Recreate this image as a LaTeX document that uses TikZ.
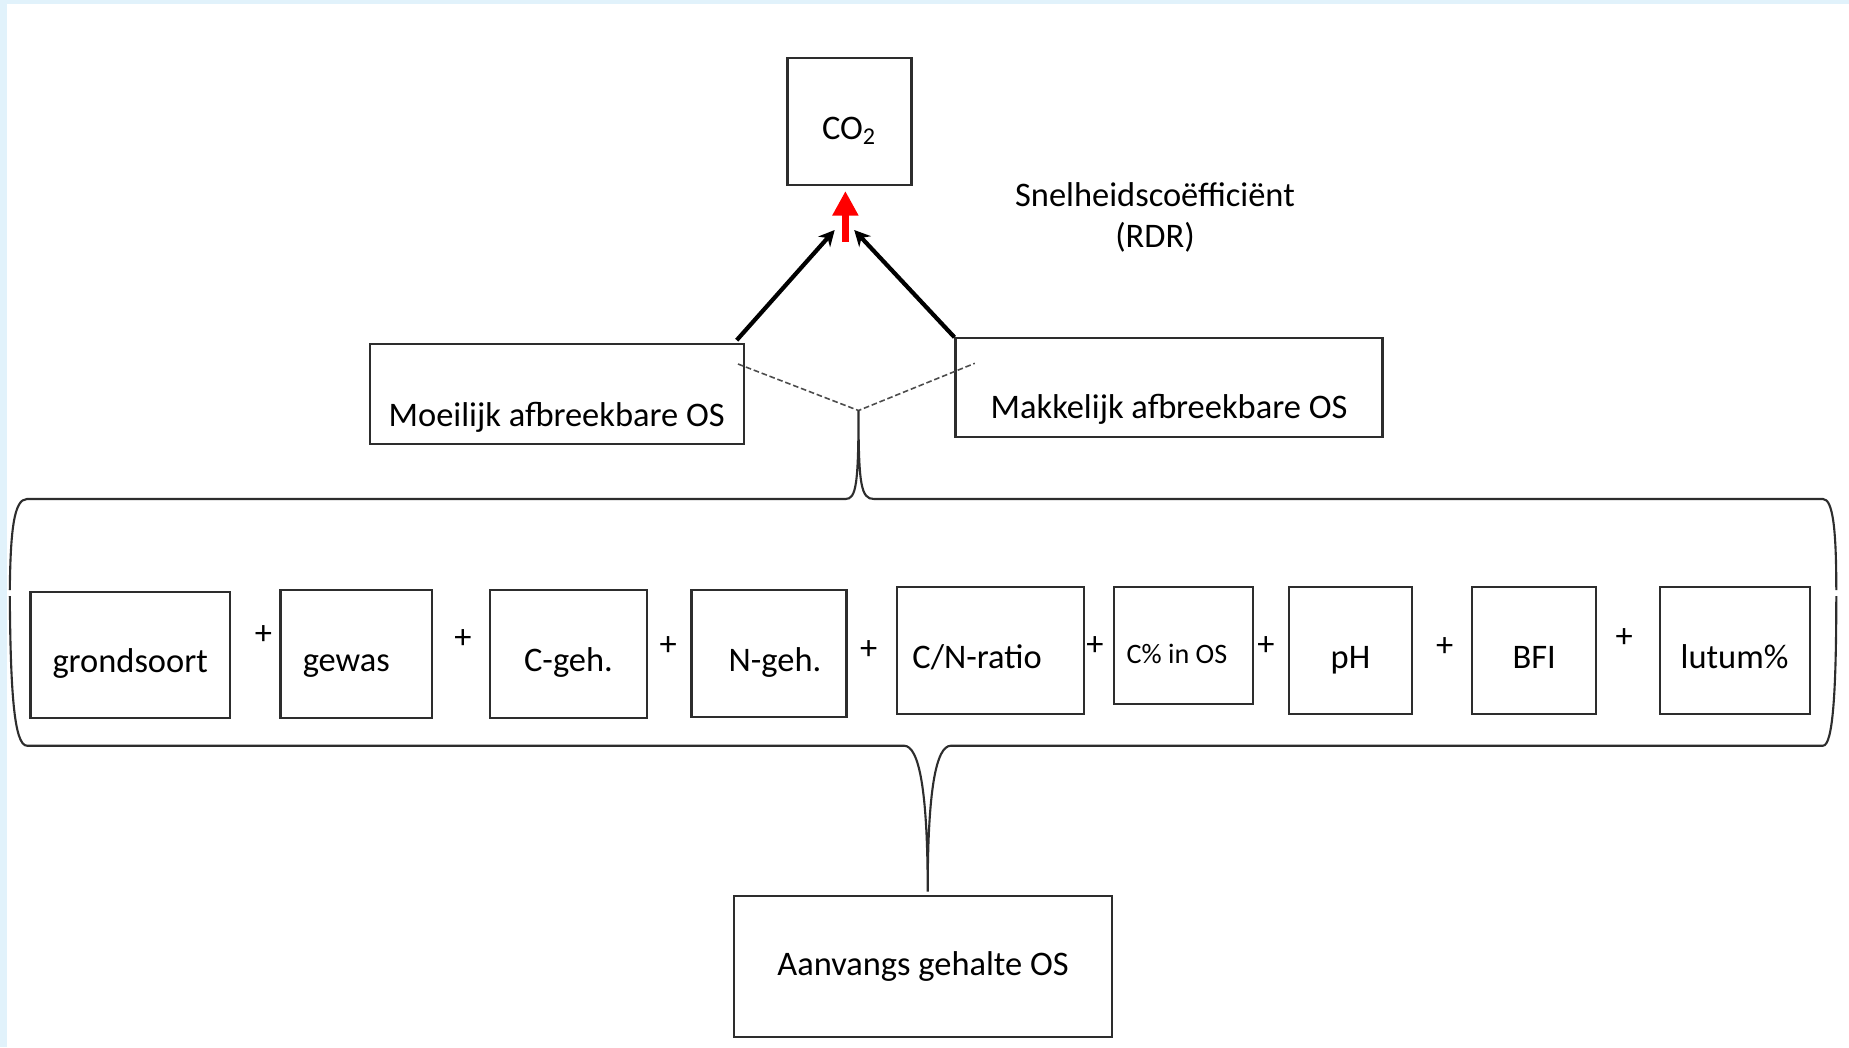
\documentclass[tikz,border=0pt]{standalone}
\usepackage{fontspec}
\setmainfont{Carlito}
\usepackage{tikz}
\usetikzlibrary{arrows.meta,positioning}
\definecolor{framecolor}{RGB}{225,242,251}
\definecolor{linecolor}{RGB}{45,45,45}

\begin{document}
\begin{tikzpicture}[
    font=\fontsize{9.8}{11.8}\selectfont,
    box/.style={draw=linecolor, line width=0.6pt, inner sep=2pt, minimum height=1.27cm},
    lowbox/.style={box, text height=1.2em, text depth=0.2em},
    brace/.style={draw=linecolor, line width=0.6pt},
    flow/.style={-{Stealth[length=4.5pt,width=4.5pt]}, line width=1.2pt},
    split/.style={draw=black!70, line width=0.45pt, dash pattern=on 1.6pt off 0.8pt},
  ]
    % Frame
    \useasboundingbox (0,0) rectangle (18.49,-10.47);
    \fill[framecolor] (0,0) rectangle (18.49,-10.47);
    \fill[white] (0.07,-0.04) rectangle (18.49,-10.47);
    % Top boxes
    \node[lowbox, minimum width=1.24cm] (co2) at (8.495,-1.215) {CO\textsubscript{2}};
    \node[align=center] (rdr) at (11.55,-2.175) {Snelheidscoëfficiënt\\(RDR)};
    \node[box, minimum width=3.74cm, minimum height=1cm] (moe) at (5.567,-3.942) {};
    \node (moetxt) at ([yshift=0.28cm]moe.south) {Moeilijk afbreekbare OS};
    \node[box, minimum width=4.27cm, minimum height=0.99cm] (mak) at (11.69,-3.878) {};
    \node (maktxt) at ([yshift=0.29cm]mak.south) {Makkelijk afbreekbare OS};
    % Arrows
    \coordinate (L) at (8.347,-2.30);
    \coordinate (R) at (8.542,-2.30);
    \coordinate (S) at (8.454,-2.417);
    \coordinate (T) at (8.454,-1.91);
    \draw[flow] ([xshift=-0.08cm,yshift=0.03cm]moe.north east) -- (L);
    \draw[flow] (mak.north west) -- (R);
    \draw[red, line width=2.2pt, -{Triangle[length=7pt,width=7pt]}] (S) -- (T);
    % Split
    \coordinate (V) at (8.585,-4.105);
    \coordinate (D1) at (7.38,-3.64);
    \coordinate (D2) at (9.748,-3.633);
    \draw[split] (D1) -- (V) -- (D2);
    % Braces
    \draw[brace] (0.098,-5.90) .. controls (0.105,-5.30) and (0.14,-4.99) .. (0.27,-4.99)
      -- (8.456,-4.99) .. controls (8.56,-4.99) and (8.585,-4.85) .. (V)
      .. controls (8.585,-4.85) and (8.61,-4.99) .. (8.74,-4.99)
      -- (18.23,-4.99) .. controls (18.33,-4.99) and (18.363,-5.30) .. (18.363,-5.90);
    \coordinate (W) at (9.277,-8.917);
    \draw[brace] (0.098,-5.96) .. controls (0.105,-6.9) and (0.14,-7.457) .. (0.27,-7.457)
      -- (9.04,-7.457) .. controls (9.19,-7.457) and (9.277,-7.9) .. (W)
      .. controls (9.277,-7.9) and (9.36,-7.457) .. (9.51,-7.457)
      -- (18.23,-7.457) .. controls (18.33,-7.457) and (18.363,-6.9) .. (18.363,-5.96);
    % Factors
    \node[lowbox, minimum width=1.995cm, minimum height=1.26cm] (gs) at (1.302,-6.552) {grondsoort};
    \node[lowbox, minimum width=1.517cm, minimum height=1.28cm] (gw) at (3.563,-6.54) {\hspace{-0.2cm}gewas};
    \node[lowbox, minimum width=1.576cm, minimum height=1.28cm] (cg) at (5.685,-6.54) {C-geh.};
    \node[lowbox, minimum width=1.549cm] (ng) at (7.69,-6.537) {\hspace{0.12cm}N-geh.};
    \node[lowbox, minimum width=1.875cm] (cn) at (9.906,-6.508) {\hspace{-0.27cm}C/N-ratio};
    \node[lowbox, minimum width=1.384cm, minimum height=1.167cm, font=\fontsize{8}{9.6}\selectfont] (cp) at (11.835,-6.457) {\hspace{-0.13cm}C\% in OS};
    \node[lowbox, minimum width=1.223cm] (ph) at (13.505,-6.508) {pH};
    \node[lowbox, minimum width=1.237cm] (bf) at (15.342,-6.508) {BFI};
    \node[lowbox, minimum width=1.501cm] (lu) at (17.346,-6.508) {lutum\%};
    \foreach \x/\y [count=\i] in {2.634/-6.35, 4.63/-6.393, 6.683/-6.457, 8.688/-6.50,
        10.95/-6.457, 12.66/-6.457, 14.448/-6.467, 16.243/-6.383}
      \node (p\i) at (\x,\y) {+};
    % Start
    \node[box, minimum width=3.78cm, minimum height=1.41cm] (aanv) at (9.23,-9.662) {Aanvangs gehalte OS};
  \end{tikzpicture}
\end{document}
